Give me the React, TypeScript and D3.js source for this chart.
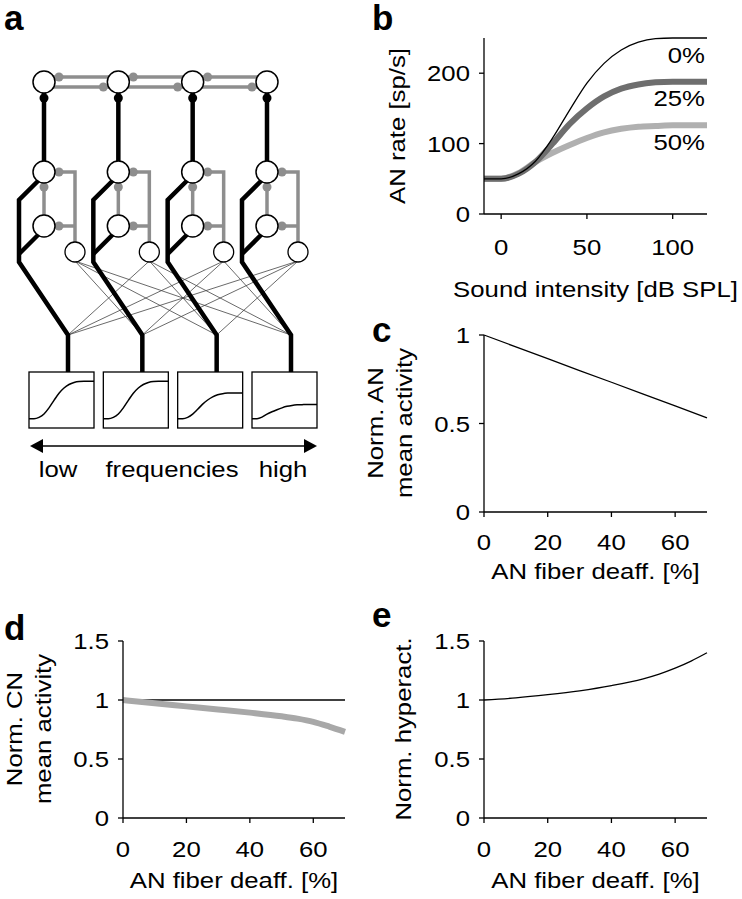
import React from "react";
import { scaleLinear, line, curveMonotoneX } from "d3";

// panel b: AN rate vs sound intensity for 0/25/50 % deafferentation
const intensity = [-10, 0, 10, 20, 30, 40, 50, 60, 70, 80, 90, 100, 110, 120];
const rate0 = [50, 50, 57, 75, 108, 148, 186, 214, 233, 244, 249, 250, 250, 250];
const rate25 = [50, 50, 57, 74, 100, 128, 150, 167, 178, 184, 187, 188, 188, 188];
const rate50 = [50, 50, 58, 74, 87, 98, 108, 116, 121, 124, 125, 126, 126, 126];
const rateTicks = [0, 100, 200];
const intensityTicks = [0, 50, 100];

// panel c
const deaffC = [0, 10, 20, 30, 40, 50, 60, 70];
const anActivity = [1, 0.933, 0.866, 0.799, 0.733, 0.666, 0.599, 0.532];

// panels d, e
const deaff = [0, 10, 20, 30, 40, 50, 55, 60, 65, 70];
const cnActivity = [1.0, 0.972, 0.946, 0.92, 0.893, 0.862, 0.842, 0.815, 0.775, 0.73];
const cnReference = [1, 1, 1, 1, 1, 1, 1, 1, 1, 1];
const hyperact = [1.0, 1.018, 1.045, 1.078, 1.122, 1.18, 1.22, 1.27, 1.33, 1.4];
const deaffTicks = [0, 20, 40, 60];
const unitTicks = [0, 0.5, 1];
const unitTicks15 = [0, 0.5, 1, 1.5];

// panel a: four frequency channels, each shows one rate curve
const channels = ["ch1", "ch2", "ch3", "ch4"];
const channelCurves = [rate0, rate0, rate25, rate50];

const FONT = "'Liberation Sans', Arial, Helvetica, sans-serif";

function Txt({
  x,
  y,
  anchor = "start",
  rotate = 0,
  size = 23,
  bold = false,
  stretch = 1.12,
  children,
}: {
  x: number;
  y: number;
  anchor?: string;
  rotate?: number;
  size?: number;
  bold?: boolean;
  stretch?: number;
  children: React.ReactNode;
}) {
  return (
    <text
      transform={`translate(${x},${y}) rotate(${rotate}) scale(${stretch},1)`}
      textAnchor={anchor as any}
      fontSize={size}
      fontWeight={bold ? "bold" : "normal"}
      fontFamily={FONT}
      fill="#000"
    >
      {children}
    </text>
  );
}

function Axes({
  x,
  y,
  xTicks,
  yTicks,
  xLabelY,
  titleY,
  xTitle,
}: {
  x: any;
  y: any;
  xTicks: number[];
  yTicks: number[];
  xLabelY: number;
  titleY: number;
  xTitle: string;
}) {
  const [x0, x1] = x.range();
  const [y0, y1] = y.range();
  return (
    <g>
      <line x1={x0} x2={x1} y1={y0} y2={y0} stroke="#000" strokeWidth={1.3} />
      <line x1={x0} x2={x0} y1={y0} y2={y1} stroke="#000" strokeWidth={1.3} />
      {xTicks.map((t) => (
        <g key={"x" + t}>
          <line x1={x(t)} x2={x(t)} y1={y0} y2={y0 + 5} stroke="#000" strokeWidth={1.3} />
          <Txt x={x(t)} y={xLabelY} anchor="middle">
            {t}
          </Txt>
        </g>
      ))}
      {yTicks.map((t) => (
        <g key={"y" + t}>
          <line x1={x0 - 5} x2={x0} y1={y(t)} y2={y(t)} stroke="#000" strokeWidth={1.3} />
          <Txt x={x0 - 14} y={y(t) + 8} anchor="end">
            {t}
          </Txt>
        </g>
      ))}
      <Txt x={(x0 + x1) / 2} y={titleY} anchor="middle">
        {xTitle}
      </Txt>
    </g>
  );
}

function PanelA() {
  const col = scaleLinear().domain([0, 3]).range([44, 267]);
  const topY = 82;
  const midY = 172;
  const lowY = 226;
  const smallY = 252;
  const junctionY = 335;
  const boxTop = 372;
  const boxBottom = 428;
  const gray = "#8e8e8e";

  return (
    <g>
      {/* lateral gray connections between top cells */}
      <line x1={col(0)} x2={col(3)} y1={77} y2={77} stroke={gray} strokeWidth={3.5} />
      <line x1={col(0)} x2={col(3)} y1={87} y2={87} stroke={gray} strokeWidth={3.5} />
      {channels.slice(0, 3).map((c, i) => (
        <g key={"lat" + c}>
          <circle cx={col(i) + 15} cy={77} r={4.5} fill={gray} />
          <circle cx={col(i + 1) - 15} cy={87} r={4.5} fill={gray} />
        </g>
      ))}

      {/* thin cross connections from small cells to other junctions */}
      {channels.map((c, i) =>
        channels.map((d, j) =>
          i === j ? null : (
            <line
              key={c + d}
              x1={col(i) + 31}
              y1={smallY + 9}
              x2={col(j) + 24}
              y2={junctionY}
              stroke="#444"
              strokeWidth={0.8}
            />
          ),
        ),
      )}

      {channels.map((c, i) => {
        const cx = col(i);
        const curve = channelCurves[i];
        const bx = scaleLinear().domain([-10, 120]).range([cx - 15, cx + 50]);
        const by = scaleLinear().domain([0, 300]).range([boxBottom, boxTop]);
        const path = line<number>()
          .x((_, k) => bx(intensity[k]))
          .y((v) => by(v))
          .curve(curveMonotoneX)(curve);
        return (
          <g key={c}>
            {/* gray local circuit */}
            <polyline
              points={`${cx},${midY} ${cx + 31},${midY} ${cx + 31},${smallY - 10}`}
              fill="none"
              stroke={gray}
              strokeWidth={3.5}
            />
            <line x1={cx} x2={cx + 31} y1={lowY} y2={lowY} stroke={gray} strokeWidth={3.5} />
            <line x1={cx} x2={cx} y1={midY} y2={lowY} stroke={gray} strokeWidth={3.5} />
            <circle cx={cx + 15} cy={midY} r={4.5} fill={gray} />
            <circle cx={cx + 15} cy={lowY} r={4.5} fill={gray} />
            <circle cx={cx} cy={midY + 15} r={4.5} fill={gray} />

            {/* black feedforward pathway */}
            <line x1={cx} x2={cx} y1={topY} y2={midY} stroke="#000" strokeWidth={4.5} />
            <circle cx={cx} cy={topY + 16} r={4.5} fill="#000" />
            <polyline
              points={`${cx - 5},${midY + 8} ${cx - 25},${midY + 28} ${cx - 25},${smallY + 10} ${cx + 24},${junctionY} ${cx + 24},${boxTop}`}
              fill="none"
              stroke="#000"
              strokeWidth={4.5}
              strokeLinejoin="miter"
            />
            <line x1={cx - 5} y1={lowY + 8} x2={cx - 25} y2={lowY + 28} stroke="#000" strokeWidth={4.5} />

            {/* cells */}
            <circle cx={cx} cy={topY} r={11} fill="#fff" stroke="#000" strokeWidth={1.5} />
            <circle cx={cx} cy={midY} r={11} fill="#fff" stroke="#000" strokeWidth={1.5} />
            <circle cx={cx} cy={lowY} r={11} fill="#fff" stroke="#000" strokeWidth={1.5} />
            <circle cx={cx + 31} cy={smallY} r={10} fill="#fff" stroke="#000" strokeWidth={1.3} />

            {/* response box */}
            <rect
              x={cx - 15}
              y={boxTop}
              width={65}
              height={boxBottom - boxTop}
              fill="#fff"
              stroke="#000"
              strokeWidth={1.3}
            />
            <path d={path ?? ""} fill="none" stroke="#000" strokeWidth={1.5} />
          </g>
        );
      })}

      {/* frequency arrow */}
      <line x1={40} x2={307} y1={446} y2={446} stroke="#000" strokeWidth={1.4} />
      <polygon points="30,446 43,439 43,453" fill="#000" />
      <polygon points="317,446 304,439 304,453" fill="#000" />
      <Txt x={58} y={477} anchor="middle">low</Txt>
      <Txt x={172} y={477} anchor="middle">frequencies</Txt>
      <Txt x={283} y={477} anchor="middle">high</Txt>
    </g>
  );
}

export default function App() {
  // panel b
  const bx = scaleLinear().domain([-10, 120]).range([484, 707]);
  const by = scaleLinear().domain([0, 250]).range([214, 38]);
  const bLine = line<number>()
    .x((_, i) => bx(intensity[i]))
    .y((v) => by(v))
    .curve(curveMonotoneX);

  // panel c
  const cx = scaleLinear().domain([0, 70]).range([484, 707]);
  const cy = scaleLinear().domain([0, 1]).range([512, 335]);
  const cLine = line<number>()
    .x((_, i) => cx(deaffC[i]))
    .y((v) => cy(v));

  // panel d
  const dx = scaleLinear().domain([0, 70]).range([123, 345]);
  const dy = scaleLinear().domain([0, 1.5]).range([818, 641]);
  const dLine = line<number>()
    .x((_, i) => dx(deaff[i]))
    .y((v) => dy(v))
    .curve(curveMonotoneX);

  // panel e
  const ex = scaleLinear().domain([0, 70]).range([484, 707]);
  const ey = scaleLinear().domain([0, 1.5]).range([818, 641]);
  const eLine = line<number>()
    .x((_, i) => ex(deaff[i]))
    .y((v) => ey(v))
    .curve(curveMonotoneX);

  return (
    <div>
      <style>{`body{margin:0;background:#fff}`}</style>
      <svg width={742} height={899} style={{ display: "block", background: "#fff" }}>
        {/* panel letters */}
        <Txt x={4} y={30} size={35} bold stretch={1}>a</Txt>
        <Txt x={372} y={30} size={35} bold stretch={1}>b</Txt>
        <Txt x={372} y={342} size={35} bold stretch={1}>c</Txt>
        <Txt x={4} y={640} size={35} bold stretch={1}>d</Txt>
        <Txt x={372} y={627} size={35} bold stretch={1}>e</Txt>

        <PanelA />

        {/* b */}
        <path d={bLine(rate50) ?? ""} fill="none" stroke="#b0b0b0" strokeWidth={6} />
        <path d={bLine(rate25) ?? ""} fill="none" stroke="#6e6e6e" strokeWidth={6} />
        <path d={bLine(rate0) ?? ""} fill="none" stroke="#000" strokeWidth={1.3} />
        <Axes x={bx} y={by} xTicks={intensityTicks} yTicks={rateTicks} xLabelY={255} titleY={297} xTitle="Sound intensity [dB SPL]" />
        <Txt x={405} y={126} rotate={-90} anchor="middle">AN rate [sp/s]</Txt>
        <Txt x={705} y={63} anchor="end">0%</Txt>
        <Txt x={705} y={106} anchor="end">25%</Txt>
        <Txt x={705} y={150} anchor="end">50%</Txt>

        {/* c */}
        <path d={cLine(anActivity) ?? ""} fill="none" stroke="#000" strokeWidth={1.3} />
        <Axes x={cx} y={cy} xTicks={deaffTicks} yTicks={unitTicks} xLabelY={550} titleY={579} xTitle="AN fiber deaff. [%]" />
        <Txt x={383} y={423} rotate={-90} anchor="middle">Norm. AN</Txt>
        <Txt x={412} y={423} rotate={-90} anchor="middle">mean activity</Txt>

        {/* d */}
        <path d={dLine(cnReference) ?? ""} fill="none" stroke="#000" strokeWidth={1.3} />
        <path d={dLine(cnActivity) ?? ""} fill="none" stroke="#a8a8a8" strokeWidth={6} />
        <Axes x={dx} y={dy} xTicks={deaffTicks} yTicks={unitTicks15} xLabelY={857} titleY={888} xTitle="AN fiber deaff. [%]" />
        <Txt x={22} y={729} rotate={-90} anchor="middle">Norm. CN</Txt>
        <Txt x={51} y={729} rotate={-90} anchor="middle">mean activity</Txt>

        {/* e */}
        <path d={eLine(hyperact) ?? ""} fill="none" stroke="#000" strokeWidth={1.3} />
        <Axes x={ex} y={ey} xTicks={deaffTicks} yTicks={unitTicks15} xLabelY={857} titleY={888} xTitle="AN fiber deaff. [%]" />
        <Txt x={411} y={729} rotate={-90} anchor="middle">Norm. hyperact.</Txt>
      </svg>
    </div>
  );
}
